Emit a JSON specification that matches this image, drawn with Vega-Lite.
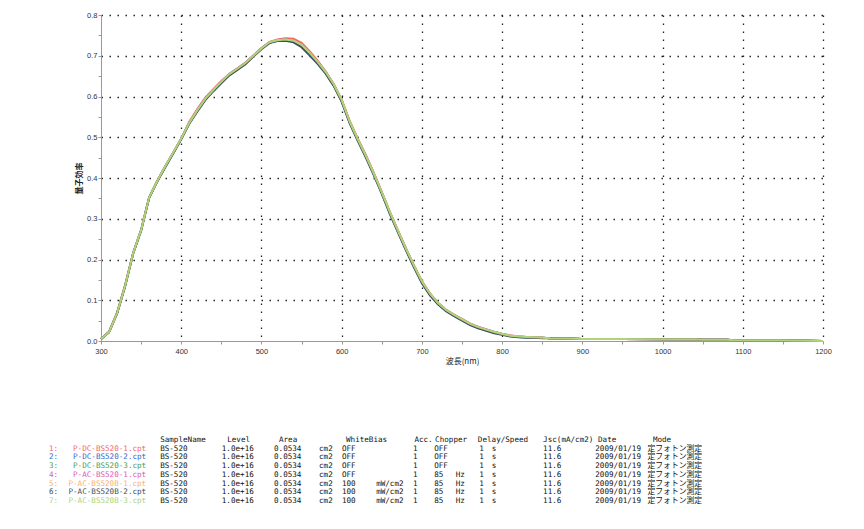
{
  "$schema": "https://vega.github.io/schema/vega-lite/v6.json",
  "description": "Quantum efficiency spectra of seven BS-520 measurements with the measurement table below.",
  "background": "white",
  "padding": {"left": 48, "top": 11, "right": 5, "bottom": 5},
  "spacing": 99,
  "bounds": "flush",
  "config": {"view": {"stroke": null}, "font": "Liberation Sans"},
  "resolve": {"scale": {"x": "independent", "y": "independent", "color": "shared"}},
  "datasets": {
    "qe": [
      {"wl": 300, "s1": 0.005, "s2": 0.005, "s3": 0.005, "s4": 0.005, "s5": 0.005, "s6": 0.005, "s7": 0.005},
      {"wl": 310, "s1": 0.022, "s2": 0.022, "s3": 0.022, "s4": 0.022, "s5": 0.022, "s6": 0.022, "s7": 0.022},
      {"wl": 320, "s1": 0.07, "s2": 0.068, "s3": 0.068, "s4": 0.068, "s5": 0.068, "s6": 0.067, "s7": 0.068},
      {"wl": 330, "s1": 0.137, "s2": 0.135, "s3": 0.135, "s4": 0.135, "s5": 0.135, "s6": 0.134, "s7": 0.135},
      {"wl": 340, "s1": 0.215, "s2": 0.215, "s3": 0.215, "s4": 0.215, "s5": 0.215, "s6": 0.214, "s7": 0.215},
      {"wl": 350, "s1": 0.272, "s2": 0.272, "s3": 0.272, "s4": 0.272, "s5": 0.272, "s6": 0.271, "s7": 0.272},
      {"wl": 360, "s1": 0.352, "s2": 0.352, "s3": 0.352, "s4": 0.352, "s5": 0.352, "s6": 0.351, "s7": 0.352},
      {"wl": 370, "s1": 0.392, "s2": 0.392, "s3": 0.392, "s4": 0.392, "s5": 0.392, "s6": 0.391, "s7": 0.392},
      {"wl": 380, "s1": 0.428, "s2": 0.428, "s3": 0.428, "s4": 0.428, "s5": 0.428, "s6": 0.426, "s7": 0.428},
      {"wl": 390, "s1": 0.462, "s2": 0.461, "s3": 0.462, "s4": 0.462, "s5": 0.462, "s6": 0.46, "s7": 0.462},
      {"wl": 400, "s1": 0.497, "s2": 0.496, "s3": 0.497, "s4": 0.497, "s5": 0.497, "s6": 0.495, "s7": 0.497},
      {"wl": 410, "s1": 0.538, "s2": 0.534, "s3": 0.535, "s4": 0.535, "s5": 0.535, "s6": 0.533, "s7": 0.535},
      {"wl": 420, "s1": 0.569, "s2": 0.565, "s3": 0.566, "s4": 0.566, "s5": 0.566, "s6": 0.563, "s7": 0.566},
      {"wl": 430, "s1": 0.597, "s2": 0.593, "s3": 0.594, "s4": 0.594, "s5": 0.592, "s6": 0.591, "s7": 0.594},
      {"wl": 440, "s1": 0.618, "s2": 0.615, "s3": 0.616, "s4": 0.616, "s5": 0.612, "s6": 0.613, "s7": 0.616},
      {"wl": 450, "s1": 0.638, "s2": 0.635, "s3": 0.636, "s4": 0.636, "s5": 0.632, "s6": 0.633, "s7": 0.636},
      {"wl": 460, "s1": 0.656, "s2": 0.654, "s3": 0.655, "s4": 0.655, "s5": 0.652, "s6": 0.652, "s7": 0.655},
      {"wl": 470, "s1": 0.669, "s2": 0.667, "s3": 0.668, "s4": 0.668, "s5": 0.665, "s6": 0.665, "s7": 0.668},
      {"wl": 480, "s1": 0.683, "s2": 0.681, "s3": 0.682, "s4": 0.682, "s5": 0.68, "s6": 0.679, "s7": 0.682},
      {"wl": 490, "s1": 0.701, "s2": 0.699, "s3": 0.7, "s4": 0.7, "s5": 0.699, "s6": 0.698, "s7": 0.7},
      {"wl": 500, "s1": 0.719, "s2": 0.717, "s3": 0.718, "s4": 0.718, "s5": 0.717, "s6": 0.716, "s7": 0.718},
      {"wl": 510, "s1": 0.734, "s2": 0.732, "s3": 0.733, "s4": 0.733, "s5": 0.733, "s6": 0.731, "s7": 0.733},
      {"wl": 520, "s1": 0.74, "s2": 0.737, "s3": 0.738, "s4": 0.738, "s5": 0.738, "s6": 0.736, "s7": 0.738},
      {"wl": 530, "s1": 0.743, "s2": 0.738, "s3": 0.74, "s4": 0.74, "s5": 0.74, "s6": 0.737, "s7": 0.74},
      {"wl": 540, "s1": 0.742, "s2": 0.735, "s3": 0.737, "s4": 0.737, "s5": 0.737, "s6": 0.733, "s7": 0.737},
      {"wl": 550, "s1": 0.732, "s2": 0.724, "s3": 0.727, "s4": 0.727, "s5": 0.727, "s6": 0.721, "s7": 0.727},
      {"wl": 560, "s1": 0.711, "s2": 0.703, "s3": 0.707, "s4": 0.707, "s5": 0.707, "s6": 0.701, "s7": 0.707},
      {"wl": 570, "s1": 0.688, "s2": 0.682, "s3": 0.685, "s4": 0.685, "s5": 0.685, "s6": 0.68, "s7": 0.685},
      {"wl": 580, "s1": 0.662, "s2": 0.658, "s3": 0.66, "s4": 0.66, "s5": 0.66, "s6": 0.656, "s7": 0.66},
      {"wl": 590, "s1": 0.631, "s2": 0.628, "s3": 0.63, "s4": 0.63, "s5": 0.63, "s6": 0.626, "s7": 0.63},
      {"wl": 600, "s1": 0.592, "s2": 0.589, "s3": 0.591, "s4": 0.591, "s5": 0.591, "s6": 0.587, "s7": 0.591},
      {"wl": 610, "s1": 0.54, "s2": 0.536, "s3": 0.538, "s4": 0.538, "s5": 0.538, "s6": 0.534, "s7": 0.538},
      {"wl": 620, "s1": 0.497, "s2": 0.493, "s3": 0.495, "s4": 0.495, "s5": 0.495, "s6": 0.491, "s7": 0.495},
      {"wl": 630, "s1": 0.457, "s2": 0.453, "s3": 0.455, "s4": 0.455, "s5": 0.455, "s6": 0.451, "s7": 0.455},
      {"wl": 640, "s1": 0.413, "s2": 0.409, "s3": 0.411, "s4": 0.411, "s5": 0.411, "s6": 0.407, "s7": 0.411},
      {"wl": 650, "s1": 0.366, "s2": 0.363, "s3": 0.365, "s4": 0.365, "s5": 0.365, "s6": 0.361, "s7": 0.365},
      {"wl": 660, "s1": 0.317, "s2": 0.314, "s3": 0.316, "s4": 0.316, "s5": 0.316, "s6": 0.312, "s7": 0.316},
      {"wl": 670, "s1": 0.272, "s2": 0.269, "s3": 0.271, "s4": 0.271, "s5": 0.271, "s6": 0.267, "s7": 0.271},
      {"wl": 680, "s1": 0.228, "s2": 0.225, "s3": 0.227, "s4": 0.227, "s5": 0.227, "s6": 0.223, "s7": 0.227},
      {"wl": 690, "s1": 0.186, "s2": 0.183, "s3": 0.185, "s4": 0.185, "s5": 0.185, "s6": 0.181, "s7": 0.185},
      {"wl": 700, "s1": 0.147, "s2": 0.144, "s3": 0.146, "s4": 0.146, "s5": 0.146, "s6": 0.142, "s7": 0.146},
      {"wl": 710, "s1": 0.117, "s2": 0.114, "s3": 0.116, "s4": 0.116, "s5": 0.116, "s6": 0.112, "s7": 0.116},
      {"wl": 720, "s1": 0.094, "s2": 0.091, "s3": 0.093, "s4": 0.093, "s5": 0.093, "s6": 0.09, "s7": 0.093},
      {"wl": 730, "s1": 0.077, "s2": 0.075, "s3": 0.076, "s4": 0.076, "s5": 0.076, "s6": 0.073, "s7": 0.076},
      {"wl": 740, "s1": 0.065, "s2": 0.063, "s3": 0.064, "s4": 0.064, "s5": 0.064, "s6": 0.061, "s7": 0.064},
      {"wl": 750, "s1": 0.054, "s2": 0.052, "s3": 0.053, "s4": 0.053, "s5": 0.053, "s6": 0.05, "s7": 0.053},
      {"wl": 760, "s1": 0.043, "s2": 0.041, "s3": 0.042, "s4": 0.042, "s5": 0.042, "s6": 0.039, "s7": 0.042},
      {"wl": 770, "s1": 0.035, "s2": 0.033, "s3": 0.034, "s4": 0.034, "s5": 0.034, "s6": 0.031, "s7": 0.034},
      {"wl": 780, "s1": 0.029, "s2": 0.027, "s3": 0.028, "s4": 0.028, "s5": 0.028, "s6": 0.025, "s7": 0.028},
      {"wl": 790, "s1": 0.023, "s2": 0.021, "s3": 0.022, "s4": 0.022, "s5": 0.022, "s6": 0.019, "s7": 0.022},
      {"wl": 800, "s1": 0.018, "s2": 0.016, "s3": 0.017, "s4": 0.017, "s5": 0.017, "s6": 0.015, "s7": 0.017},
      {"wl": 810, "s1": 0.014, "s2": 0.012, "s3": 0.013, "s4": 0.013, "s5": 0.013, "s6": 0.011, "s7": 0.013},
      {"wl": 820, "s1": 0.011, "s2": 0.01, "s3": 0.011, "s4": 0.011, "s5": 0.011, "s6": 0.009, "s7": 0.011},
      {"wl": 830, "s1": 0.01, "s2": 0.009, "s3": 0.01, "s4": 0.01, "s5": 0.01, "s6": 0.008, "s7": 0.01},
      {"wl": 840, "s1": 0.009, "s2": 0.009, "s3": 0.009, "s4": 0.009, "s5": 0.009, "s6": 0.008, "s7": 0.009},
      {"wl": 850, "s1": 0.008, "s2": 0.008, "s3": 0.008, "s4": 0.008, "s5": 0.008, "s6": 0.007, "s7": 0.008},
      {"wl": 860, "s1": 0.007, "s2": 0.007, "s3": 0.007, "s4": 0.007, "s5": 0.007, "s6": 0.007, "s7": 0.007},
      {"wl": 880, "s1": 0.006, "s2": 0.006, "s3": 0.006, "s4": 0.006, "s5": 0.006, "s6": 0.006, "s7": 0.006},
      {"wl": 900, "s1": 0.005, "s2": 0.005, "s3": 0.005, "s4": 0.005, "s5": 0.005, "s6": 0.005, "s7": 0.005},
      {"wl": 950, "s1": 0.005, "s2": 0.005, "s3": 0.005, "s4": 0.005, "s5": 0.005, "s6": 0.005, "s7": 0.005},
      {"wl": 1000, "s1": 0.004, "s2": 0.004, "s3": 0.004, "s4": 0.004, "s5": 0.004, "s6": 0.004, "s7": 0.004},
      {"wl": 1040, "s1": 0.004, "s2": 0.004, "s3": 0.004, "s4": 0.004, "s5": 0.004, "s6": 0.004, "s7": 0.004},
      {"wl": 1050, "s1": 0.003, "s2": 0.003, "s3": 0.003, "s4": 0.003, "s5": 0.003, "s6": 0.003, "s7": 0.003},
      {"wl": 1080, "s1": 0.003, "s2": 0.003, "s3": 0.003, "s4": 0.003, "s5": 0.003, "s6": 0.003, "s7": 0.003},
      {"wl": 1090, "s1": 0.002, "s2": 0.002, "s3": 0.002, "s4": 0.002, "s5": 0.002, "s6": 0.002, "s7": 0.002},
      {"wl": 1150, "s1": 0.002, "s2": 0.002, "s3": 0.002, "s4": 0.002, "s5": 0.002, "s6": 0.002, "s7": 0.002},
      {"wl": 1160, "s1": 0.001, "s2": 0.001, "s3": 0.001, "s4": 0.001, "s5": 0.001, "s6": 0.001, "s7": 0.001},
      {"wl": 1200, "s1": 0.0, "s2": 0.0, "s3": 0.0, "s4": 0.0, "s5": 0.0, "s6": 0.0, "s7": 0.0}
    ],
    "header": [
      {"row": "h", "sample": "SampleName", "level": "Level", "area": "Area", "wb": "WhiteBias", "acc": "Acc.", "chop": "Chopper", "delay": "Delay/Speed", "jsc": "Jsc(mA/cm2)", "date": "Date", "mode": "Mode"}
    ],
    "files": [
      {"row": "1", "series": "s1", "n": "1:", "file": "P-DC-BS520-1.cpt", "sample": "BS-520", "level": "1.0e+16", "area": "0.0534", "areaUnit": "cm2", "wb": "OFF", "wbUnit": "", "acc": "1", "chop": "OFF", "chopUnit": "", "delay": "1", "delayUnit": "s", "jsc": "11.6", "date": "2009/01/19", "mode": "定フォトン測定"},
      {"row": "2", "series": "s2", "n": "2:", "file": "P-DC-BS520-2.cpt", "sample": "BS-520", "level": "1.0e+16", "area": "0.0534", "areaUnit": "cm2", "wb": "OFF", "wbUnit": "", "acc": "1", "chop": "OFF", "chopUnit": "", "delay": "1", "delayUnit": "s", "jsc": "11.6", "date": "2009/01/19", "mode": "定フォトン測定"},
      {"row": "3", "series": "s3", "n": "3:", "file": "P-DC-BS520-3.cpt", "sample": "BS-520", "level": "1.0e+16", "area": "0.0534", "areaUnit": "cm2", "wb": "OFF", "wbUnit": "", "acc": "1", "chop": "OFF", "chopUnit": "", "delay": "1", "delayUnit": "s", "jsc": "11.6", "date": "2009/01/19", "mode": "定フォトン測定"},
      {"row": "4", "series": "s4", "n": "4:", "file": "P-AC-BS520-1.cpt", "sample": "BS-520", "level": "1.0e+16", "area": "0.0534", "areaUnit": "cm2", "wb": "OFF", "wbUnit": "", "acc": "1", "chop": "85", "chopUnit": "Hz", "delay": "1", "delayUnit": "s", "jsc": "11.6", "date": "2009/01/19", "mode": "定フォトン測定"},
      {"row": "5", "series": "s5", "n": "5:", "file": "P-AC-BS520B-1.cpt", "sample": "BS-520", "level": "1.0e+16", "area": "0.0534", "areaUnit": "cm2", "wb": "100", "wbUnit": "mW/cm2", "acc": "1", "chop": "85", "chopUnit": "Hz", "delay": "1", "delayUnit": "s", "jsc": "11.6", "date": "2009/01/19", "mode": "定フォトン測定"},
      {"row": "6", "series": "s6", "n": "6:", "file": "P-AC-BS520B-2.cpt", "sample": "BS-520", "level": "1.0e+16", "area": "0.0534", "areaUnit": "cm2", "wb": "100", "wbUnit": "mW/cm2", "acc": "1", "chop": "85", "chopUnit": "Hz", "delay": "1", "delayUnit": "s", "jsc": "11.6", "date": "2009/01/19", "mode": "定フォトン測定"},
      {"row": "7", "series": "s7", "n": "7:", "file": "P-AC-BS520B-3.cpt", "sample": "BS-520", "level": "1.0e+16", "area": "0.0534", "areaUnit": "cm2", "wb": "100", "wbUnit": "mW/cm2", "acc": "1", "chop": "85", "chopUnit": "Hz", "delay": "1", "delayUnit": "s", "jsc": "11.6", "date": "2009/01/19", "mode": "定フォトン測定"}
    ]
  },
  "vconcat": [
    {
      "width": 722,
      "height": 326,
      "data": {"name": "qe"},
      "transform": [{"fold": ["s1", "s2", "s3", "s4", "s5", "s6", "s7"], "as": ["series", "value"]}],
      "mark": {"type": "line", "strokeWidth": 2},
      "encoding": {
        "x": {
          "field": "wl",
          "type": "quantitative",
          "scale": {"domain": [300, 1200], "nice": false, "zero": false},
          "axis": {
            "title": "波長(nm)",
            "values": [300, 350, 400, 450, 500, 550, 600, 650, 700, 750, 800, 850, 900, 950, 1000, 1050, 1100, 1150, 1200],
            "format": "d",
            "labelExpr": "datum.value % 100 == 0 ? datum.label : ''",
            "labelOverlap": false,
            "labelFlush": false,
            "labelFontSize": 7.5,
            "labelColor": "#333",
            "labelPadding": 3,
            "grid": true,
            "gridColor": "#222",
            "gridDash": [1.5, 6.5],
            "gridWidth": 1.3,
            "gridOpacity": {"condition": {"test": "datum.value % 100 != 0 || datum.value == 300", "value": 0}, "value": 1},
            "domainColor": "#999",
            "tickColor": "#999",
            "tickSize": 3,
            "titleFont": "Noto Sans CJK JP",
            "titleFontSize": 8,
            "titleFontWeight": "normal",
            "titleColor": "#222",
            "titlePadding": 3
          }
        },
        "y": {
          "field": "value",
          "type": "quantitative",
          "scale": {"domain": [0, 0.8], "nice": false},
          "axis": {
            "title": "量子効率",
            "values": [0, 0.05, 0.1, 0.15, 0.2, 0.25, 0.3, 0.35, 0.4, 0.45, 0.5, 0.55, 0.6, 0.65, 0.7, 0.75, 0.8],
            "labelExpr": "round(datum.value * 20) % 2 == 0 ? format(datum.value, '.1f') : ''",
            "labelOverlap": false,
            "labelFontSize": 7.5,
            "labelColor": "#333",
            "labelPadding": 1,
            "grid": true,
            "gridColor": "#222",
            "gridDash": [1.5, 6.5],
            "gridWidth": 1.3,
            "gridOpacity": {"condition": {"test": "round(datum.value * 20) % 2 == 1 || datum.value == 0", "value": 0}, "value": 1},
            "domainColor": "#999",
            "tickColor": "#999",
            "tickSize": 3,
            "titleFont": "Noto Sans CJK JP",
            "titleFontSize": 8,
            "titleFontWeight": "bold",
            "titleColor": "#222",
            "titlePadding": 3
          }
        },
        "color": {
          "field": "series",
          "type": "nominal",
          "scale": {
            "domain": ["s1", "s2", "s3", "s4", "s5", "s6", "s7"],
            "range": ["#f06868", "#3c68c8", "#4a9e58", "#d85cb4", "#f7b26e", "#3e4e5e", "#aed47a"]
          },
          "legend": null
        }
      }
    },
    {
      "width": 722,
      "height": 61,
      "encoding": {
        "y": {"field": "row", "type": "ordinal", "scale": {"type": "point", "domain": ["h", "1", "2", "3", "4", "5", "6", "7"], "padding": 0}, "axis": null}
      },
      "layer": [
        {"data": {"name": "files"}, "mark": {"type": "text", "align": "left", "baseline": "middle", "font": "DejaVu Sans Mono", "fontSize": 7.6},
         "encoding": {"x": {"datum": 0, "type": "quantitative", "scale": {"domain": [11.56, 172], "nice": false, "zero": false}, "axis": null}, "text": {"field": "n"}, "color": {"field": "series", "type": "nominal", "legend": null}}},
        {"data": {"name": "files"}, "mark": {"type": "text", "align": "right", "baseline": "middle", "font": "DejaVu Sans Mono", "fontSize": 7.6},
         "encoding": {"x": {"datum": 21.6, "type": "quantitative", "scale": {"domain": [11.56, 172], "nice": false, "zero": false}, "axis": null}, "text": {"field": "file"}, "color": {"field": "series", "type": "nominal", "legend": null}}},
        {"data": {"name": "files"}, "mark": {"type": "text", "align": "left", "baseline": "middle", "font": "DejaVu Sans Mono", "fontSize": 7.6, "color": "#111"},
         "encoding": {"x": {"datum": 24.7, "type": "quantitative", "scale": {"domain": [11.56, 172], "nice": false, "zero": false}, "axis": null}, "text": {"field": "sample"}}},
        {"data": {"name": "files"}, "mark": {"type": "text", "align": "left", "baseline": "middle", "font": "DejaVu Sans Mono", "fontSize": 7.6, "color": "#111"},
         "encoding": {"x": {"datum": 38.4, "type": "quantitative", "scale": {"domain": [11.56, 172], "nice": false, "zero": false}, "axis": null}, "text": {"field": "level"}}},
        {"data": {"name": "files"}, "mark": {"type": "text", "align": "left", "baseline": "middle", "font": "DejaVu Sans Mono", "fontSize": 7.6, "color": "#111"},
         "encoding": {"x": {"datum": 50.0, "type": "quantitative", "scale": {"domain": [11.56, 172], "nice": false, "zero": false}, "axis": null}, "text": {"field": "area"}}},
        {"data": {"name": "files"}, "mark": {"type": "text", "align": "left", "baseline": "middle", "font": "DejaVu Sans Mono", "fontSize": 7.6, "color": "#111"},
         "encoding": {"x": {"datum": 60.0, "type": "quantitative", "scale": {"domain": [11.56, 172], "nice": false, "zero": false}, "axis": null}, "text": {"field": "areaUnit"}}},
        {"data": {"name": "files"}, "mark": {"type": "text", "align": "left", "baseline": "middle", "font": "DejaVu Sans Mono", "fontSize": 7.6, "color": "#111"},
         "encoding": {"x": {"datum": 65.1, "type": "quantitative", "scale": {"domain": [11.56, 172], "nice": false, "zero": false}, "axis": null}, "text": {"field": "wb"}}},
        {"data": {"name": "files"}, "mark": {"type": "text", "align": "left", "baseline": "middle", "font": "DejaVu Sans Mono", "fontSize": 7.6, "color": "#111"},
         "encoding": {"x": {"datum": 72.7, "type": "quantitative", "scale": {"domain": [11.56, 172], "nice": false, "zero": false}, "axis": null}, "text": {"field": "wbUnit"}}},
        {"data": {"name": "files"}, "mark": {"type": "text", "align": "left", "baseline": "middle", "font": "DejaVu Sans Mono", "fontSize": 7.6, "color": "#111"},
         "encoding": {"x": {"datum": 80.9, "type": "quantitative", "scale": {"domain": [11.56, 172], "nice": false, "zero": false}, "axis": null}, "text": {"field": "acc"}}},
        {"data": {"name": "files"}, "mark": {"type": "text", "align": "left", "baseline": "middle", "font": "DejaVu Sans Mono", "fontSize": 7.6, "color": "#111"},
         "encoding": {"x": {"datum": 85.6, "type": "quantitative", "scale": {"domain": [11.56, 172], "nice": false, "zero": false}, "axis": null}, "text": {"field": "chop"}}},
        {"data": {"name": "files"}, "mark": {"type": "text", "align": "left", "baseline": "middle", "font": "DejaVu Sans Mono", "fontSize": 7.6, "color": "#111"},
         "encoding": {"x": {"datum": 90.4, "type": "quantitative", "scale": {"domain": [11.56, 172], "nice": false, "zero": false}, "axis": null}, "text": {"field": "chopUnit"}}},
        {"data": {"name": "files"}, "mark": {"type": "text", "align": "left", "baseline": "middle", "font": "DejaVu Sans Mono", "fontSize": 7.6, "color": "#111"},
         "encoding": {"x": {"datum": 95.6, "type": "quantitative", "scale": {"domain": [11.56, 172], "nice": false, "zero": false}, "axis": null}, "text": {"field": "delay"}}},
        {"data": {"name": "files"}, "mark": {"type": "text", "align": "left", "baseline": "middle", "font": "DejaVu Sans Mono", "fontSize": 7.6, "color": "#111"},
         "encoding": {"x": {"datum": 98.4, "type": "quantitative", "scale": {"domain": [11.56, 172], "nice": false, "zero": false}, "axis": null}, "text": {"field": "delayUnit"}}},
        {"data": {"name": "files"}, "mark": {"type": "text", "align": "left", "baseline": "middle", "font": "DejaVu Sans Mono", "fontSize": 7.6, "color": "#111"},
         "encoding": {"x": {"datum": 109.8, "type": "quantitative", "scale": {"domain": [11.56, 172], "nice": false, "zero": false}, "axis": null}, "text": {"field": "jsc"}}},
        {"data": {"name": "files"}, "mark": {"type": "text", "align": "left", "baseline": "middle", "font": "DejaVu Sans Mono", "fontSize": 7.6, "color": "#111"},
         "encoding": {"x": {"datum": 121.4, "type": "quantitative", "scale": {"domain": [11.56, 172], "nice": false, "zero": false}, "axis": null}, "text": {"field": "date"}}},
        {"data": {"name": "files"}, "mark": {"type": "text", "align": "left", "baseline": "middle", "font": "Noto Sans CJK JP", "fontSize": 7.8, "color": "#111"},
         "encoding": {"x": {"datum": 133.0, "type": "quantitative", "scale": {"domain": [11.56, 172], "nice": false, "zero": false}, "axis": null}, "text": {"field": "mode"}}},
        {"data": {"name": "header"}, "mark": {"type": "text", "align": "left", "baseline": "middle", "font": "DejaVu Sans Mono", "fontSize": 7.6, "color": "#111"},
         "encoding": {"x": {"datum": 24.7, "type": "quantitative", "scale": {"domain": [11.56, 172], "nice": false, "zero": false}, "axis": null}, "text": {"field": "sample"}}},
        {"data": {"name": "header"}, "mark": {"type": "text", "align": "left", "baseline": "middle", "font": "DejaVu Sans Mono", "fontSize": 7.6, "color": "#111"},
         "encoding": {"x": {"datum": 39.6, "type": "quantitative", "scale": {"domain": [11.56, 172], "nice": false, "zero": false}, "axis": null}, "text": {"field": "level"}}},
        {"data": {"name": "header"}, "mark": {"type": "text", "align": "left", "baseline": "middle", "font": "DejaVu Sans Mono", "fontSize": 7.6, "color": "#111"},
         "encoding": {"x": {"datum": 51.1, "type": "quantitative", "scale": {"domain": [11.56, 172], "nice": false, "zero": false}, "axis": null}, "text": {"field": "area"}}},
        {"data": {"name": "header"}, "mark": {"type": "text", "align": "left", "baseline": "middle", "font": "DejaVu Sans Mono", "fontSize": 7.6, "color": "#111"},
         "encoding": {"x": {"datum": 66.0, "type": "quantitative", "scale": {"domain": [11.56, 172], "nice": false, "zero": false}, "axis": null}, "text": {"field": "wb"}}},
        {"data": {"name": "header"}, "mark": {"type": "text", "align": "left", "baseline": "middle", "font": "DejaVu Sans Mono", "fontSize": 7.6, "color": "#111"},
         "encoding": {"x": {"datum": 81.2, "type": "quantitative", "scale": {"domain": [11.56, 172], "nice": false, "zero": false}, "axis": null}, "text": {"field": "acc"}}},
        {"data": {"name": "header"}, "mark": {"type": "text", "align": "left", "baseline": "middle", "font": "DejaVu Sans Mono", "fontSize": 7.6, "color": "#111"},
         "encoding": {"x": {"datum": 85.8, "type": "quantitative", "scale": {"domain": [11.56, 172], "nice": false, "zero": false}, "axis": null}, "text": {"field": "chop"}}},
        {"data": {"name": "header"}, "mark": {"type": "text", "align": "left", "baseline": "middle", "font": "DejaVu Sans Mono", "fontSize": 7.6, "color": "#111"},
         "encoding": {"x": {"datum": 95.3, "type": "quantitative", "scale": {"domain": [11.56, 172], "nice": false, "zero": false}, "axis": null}, "text": {"field": "delay"}}},
        {"data": {"name": "header"}, "mark": {"type": "text", "align": "left", "baseline": "middle", "font": "DejaVu Sans Mono", "fontSize": 7.6, "color": "#111"},
         "encoding": {"x": {"datum": 109.8, "type": "quantitative", "scale": {"domain": [11.56, 172], "nice": false, "zero": false}, "axis": null}, "text": {"field": "jsc"}}},
        {"data": {"name": "header"}, "mark": {"type": "text", "align": "left", "baseline": "middle", "font": "DejaVu Sans Mono", "fontSize": 7.6, "color": "#111"},
         "encoding": {"x": {"datum": 122.0, "type": "quantitative", "scale": {"domain": [11.56, 172], "nice": false, "zero": false}, "axis": null}, "text": {"field": "date"}}},
        {"data": {"name": "header"}, "mark": {"type": "text", "align": "left", "baseline": "middle", "font": "DejaVu Sans Mono", "fontSize": 7.6, "color": "#111"},
         "encoding": {"x": {"datum": 134.2, "type": "quantitative", "scale": {"domain": [11.56, 172], "nice": false, "zero": false}, "axis": null}, "text": {"field": "mode"}}}
      ]
    }
  ]
}
